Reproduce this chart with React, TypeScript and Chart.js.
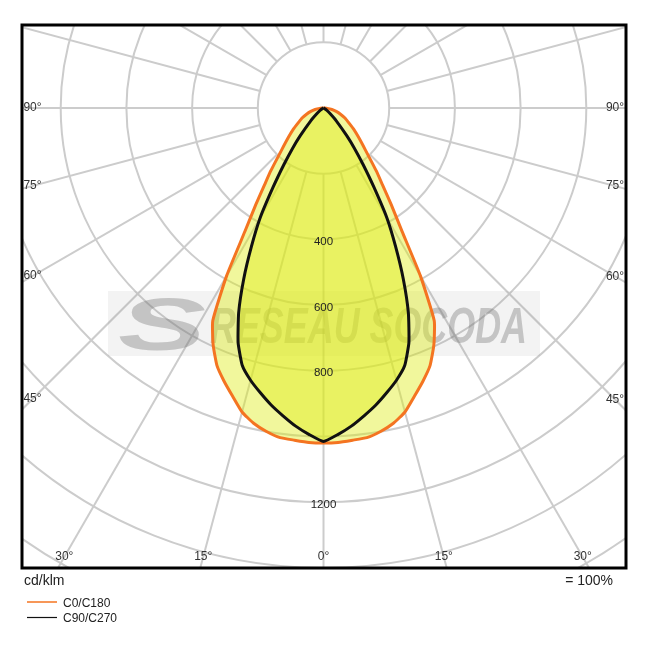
import { useEffect, useRef } from 'react';
import { Chart, registerables } from 'chart.js';

Chart.register(...registerables);

// ---- data (angles in degrees from nadir, intensities in cd/klm) ----
const ANGLES = [0, 2.5, 5, 7.5, 10, 12.5, 15, 17.5, 20, 22.5, 25, 27.5, 30, 32.5, 35, 37.5, 40, 45, 50, 55, 60, 65, 70, 75, 80, 85, 90];
const C0_C180 = [1020, 1019, 1015, 1012, 1000, 983, 958, 920, 885, 848, 795, 730, 590, 445, 360, 295, 250, 180, 140, 112, 88, 72, 55, 40, 26, 12, 0];
const C90_C270 = [1015, 995, 972, 945, 918, 888, 858, 822, 760, 675, 575, 475, 385, 285, 210, 155, 110, 55, 25, 12, 6, 3, 1, 0, 0, 0, 0];
const SERIES_NAMES = ['C0/C180', 'C90/C270'];

const RING_VALUES = [200, 400, 600, 800, 1000, 1200, 1400, 1600, 1800];
const RING_LABELS = [400, 600, 800, 1200];
const SPOKE_ANGLES = [0, 15, 30, 45, 60, 75, 90, 105, 120, 135, 150, 165, 180, 195, 210, 225, 240, 255, 270, 285, 300, 315, 330, 345];
const SIDE_ANGLE_LABELS = [90, 75, 60, 45];
const BOTTOM_ANGLE_LABELS = [-30, -15, 0, 15, 30];
const UNIT_LABEL = 'cd/klm';
const SCALE_LABEL = '= 100%';
const WATERMARK = 'RESEAU SOCODA';

const ORANGE = '#f47421';
const BLACK = '#111111';
const FILL = 'rgba(222,236,20,0.42)';
const FONT = '"Liberation Sans", Arial, sans-serif';

function toCurve(values: number[]) {
  const pts: { x: number; y: number }[] = [];
  for (let i = ANGLES.length - 1; i >= 0; i--) {
    const a = (ANGLES[i] * Math.PI) / 180;
    pts.push({ x: -values[i] * Math.sin(a), y: values[i] * Math.cos(a) });
  }
  for (let i = 1; i < ANGLES.length; i++) {
    const a = (ANGLES[i] * Math.PI) / 180;
    pts.push({ x: values[i] * Math.sin(a), y: values[i] * Math.cos(a) });
  }
  return pts;
}

const polarPlugin = {
  id: 'polarPlugin',
  beforeDatasetsDraw(chart: any) {
    const { ctx, chartArea: ca, scales } = chart;
    const xs = scales.x, ys = scales.y;
    const cx = xs.getPixelForValue(0), cy = ys.getPixelForValue(0);
    const unit = xs.getPixelForValue(1) - cx;
    ctx.save();
    ctx.beginPath();
    ctx.rect(ca.left, ca.top, ca.width, ca.height);
    ctx.clip();
    ctx.fillStyle = '#ffffff';
    ctx.fillRect(ca.left, ca.top, ca.width, ca.height);
    ctx.strokeStyle = '#cccccc';
    ctx.lineWidth = 2;
    RING_VALUES.forEach((r) => {
      ctx.beginPath();
      ctx.arc(cx, cy, r * unit, 0, Math.PI * 2);
      ctx.stroke();
    });
    const inner = RING_VALUES[0];
    const outer = 4000;
    SPOKE_ANGLES.forEach((deg) => {
      const a = (deg * Math.PI) / 180;
      ctx.beginPath();
      ctx.moveTo(xs.getPixelForValue(inner * Math.sin(a)), ys.getPixelForValue(inner * Math.cos(a)));
      ctx.lineTo(xs.getPixelForValue(outer * Math.sin(a)), ys.getPixelForValue(outer * Math.cos(a)));
      ctx.stroke();
    });
    // watermark banner
    ctx.fillStyle = 'rgba(140,140,140,0.1)';
    ctx.fillRect(108, 291, 432, 65);
    ctx.fillStyle = 'rgba(115,115,115,0.36)';
    ctx.textBaseline = 'alphabetic';
    ctx.textAlign = 'left';
    ctx.font = `italic bold 50px "Liberation Sans Narrow", "Liberation Sans", sans-serif`;
    const w = ctx.measureText(WATERMARK).width;
    ctx.save();
    ctx.translate(210, 343);
    ctx.scale(317 / w, 1);
    ctx.fillText(WATERMARK, 0, 0);
    ctx.restore();
    ctx.font = `italic bold 74px "Liberation Sans", sans-serif`;
    const sw = ctx.measureText('S').width;
    ctx.save();
    ctx.translate(118, 350);
    ctx.scale(88 / sw, 1);
    ctx.fillText('S', 0, 0);
    ctx.restore();
    ctx.restore();
  },
  afterDatasetsDraw(chart: any) {
    const { ctx, scales } = chart;
    const xs = scales.x, ys = scales.y;
    const cx = xs.getPixelForValue(0);
    ctx.save();
    ctx.fillStyle = '#222222';
    ctx.font = `11.5px ${FONT}`;
    ctx.textAlign = 'center';
    ctx.textBaseline = 'middle';
    RING_LABELS.forEach((v) => {
      ctx.fillText(String(v), cx, ys.getPixelForValue(v) + 2.5);
    });
    ctx.restore();
  },
  afterDraw(chart: any) {
    const { ctx, chartArea: ca, scales } = chart;
    const xs = scales.x, ys = scales.y;
    const cx = xs.getPixelForValue(0), cy = ys.getPixelForValue(0);
    ctx.save();
    ctx.strokeStyle = '#000000';
    ctx.lineWidth = 3;
    ctx.strokeRect(ca.left, ca.top, ca.width, ca.height);

    ctx.fillStyle = '#333333';
    ctx.font = `12px ${FONT}`;
    ctx.textAlign = 'center';
    ctx.textBaseline = 'middle';
    const leftX = ca.left + 10.5;
    const rightX = ca.right - 11;
    SIDE_ANGLE_LABELS.forEach((deg) => {
      const a = (deg * Math.PI) / 180;
      const yl = cy + ((cx - leftX) / Math.sin(a)) * Math.cos(a);
      const yr = cy + ((rightX - cx) / Math.sin(a)) * Math.cos(a);
      ctx.fillText(`${deg}°`, leftX, yl);
      ctx.fillText(`${deg}°`, rightX, yr);
    });
    const bottomY = ca.bottom - 11;
    BOTTOM_ANGLE_LABELS.forEach((deg) => {
      const a = (deg * Math.PI) / 180;
      const xb = cx + ((bottomY - cy) / Math.cos(a)) * Math.sin(a);
      ctx.fillText(`${Math.abs(deg)}°`, xb, bottomY);
    });

    ctx.fillStyle = '#222222';
    ctx.font = `14px ${FONT}`;
    ctx.textAlign = 'left';
    ctx.fillText(UNIT_LABEL, ca.left + 2, ca.bottom + 13);
    ctx.textAlign = 'right';
    ctx.fillText(SCALE_LABEL, ca.right - 13, ca.bottom + 13);

    const colors = [ORANGE, BLACK];
    ctx.font = `12px ${FONT}`;
    ctx.textAlign = 'left';
    SERIES_NAMES.forEach((name, i) => {
      const ly = ca.bottom + 34 + i * 15.5;
      ctx.strokeStyle = colors[i];
      ctx.lineWidth = i === 0 ? 1.5 : 1.2;
      ctx.beginPath();
      ctx.moveTo(27, ly);
      ctx.lineTo(57, ly);
      ctx.stroke();
      ctx.fillStyle = '#222222';
      ctx.fillText(name, 63, ly + 1.5);
    });
    ctx.restore();
  },
};

export default function App() {
  const ref = useRef<HTMLCanvasElement | null>(null);
  useEffect(() => {
    if (!ref.current) return;
    const chart = new Chart(ref.current, {
      type: 'scatter',
      data: {
        datasets: [
          {
            label: SERIES_NAMES[1],
            data: toCurve(C90_C270),
            showLine: true,
            borderColor: BLACK,
            borderWidth: 3,
            backgroundColor: FILL,
            fill: 'shape',
            pointRadius: 0,
            tension: 0.15,
            order: 0,
          } as any,
          {
            label: SERIES_NAMES[0],
            data: toCurve(C0_C180),
            showLine: true,
            borderColor: ORANGE,
            borderWidth: 3,
            backgroundColor: FILL,
            fill: 'shape',
            pointRadius: 0,
            tension: 0.15,
            order: 1,
          } as any,
        ],
      },
      options: {
        animation: false,
        responsive: false,
        devicePixelRatio: 1,
        layout: { padding: { left: 22, top: 25, right: 22, bottom: 80 } },
        scales: {
          x: { type: 'linear', min: -917.8, max: 920.8, display: false },
          y: { type: 'linear', min: -252.7, max: 1400.2, reverse: true, display: false },
        },
        plugins: { legend: { display: false }, tooltip: { enabled: false } },
      },
      plugins: [polarPlugin],
    });
    return () => chart.destroy();
  }, []);
  return (
    <div style={{ position: 'absolute', left: 0, top: 0, width: 648, height: 648, background: '#fff' }}>
      <canvas ref={ref} width={648} height={648} style={{ width: 648, height: 648 }} />
    </div>
  );
}
